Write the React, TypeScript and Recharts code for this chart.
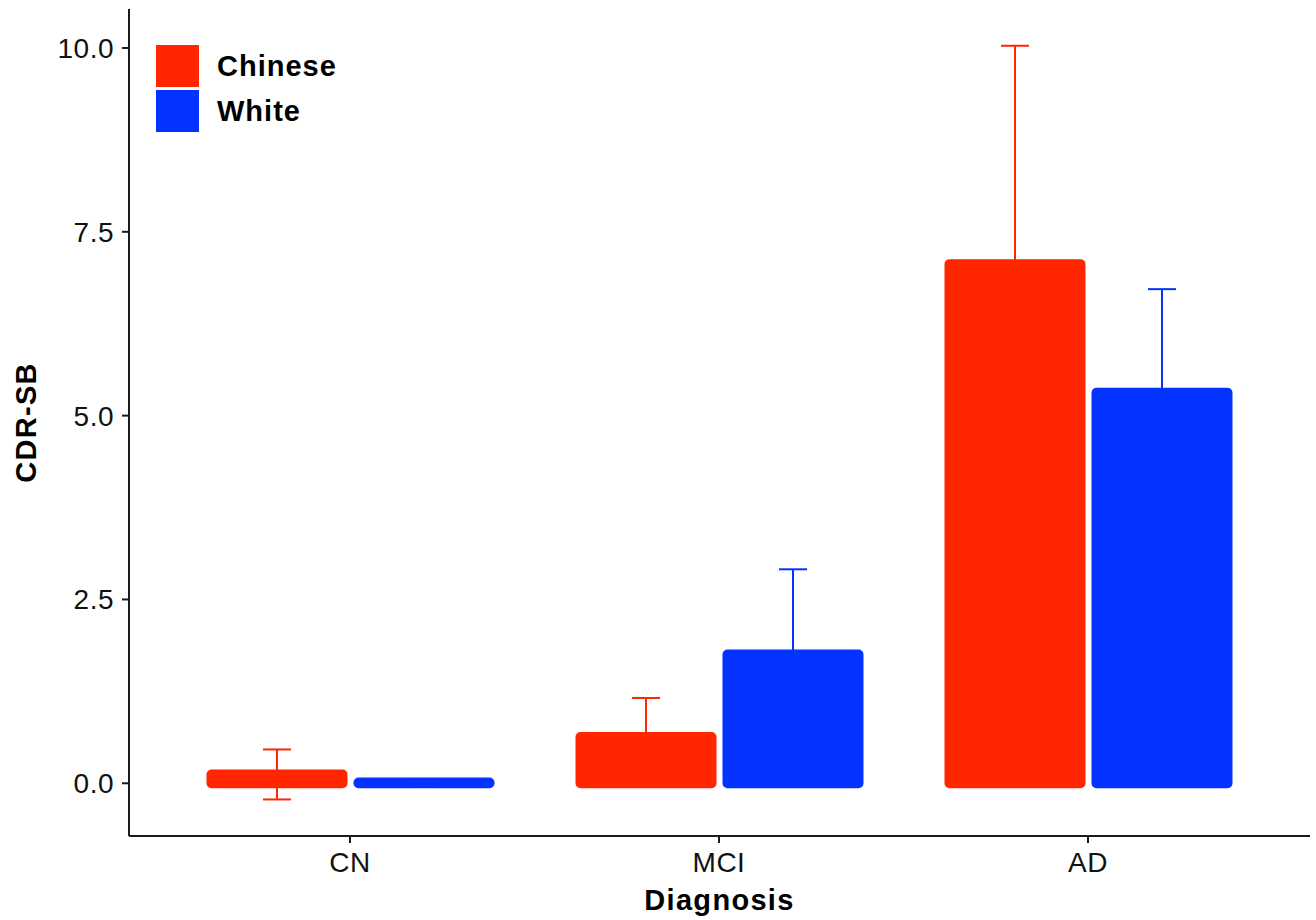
import React from "react";
import { BarChart, Bar, XAxis, YAxis, ErrorBar } from "recharts";

const diagnoses = ["CN", "MCI", "AD"];
const chineseMean = [0.12, 0.63, 7.06];
const chineseErr = [0.34, 0.53, 2.97];
const whiteMean = [0.01, 1.75, 5.31];
const whiteErr = [0.04, 1.16, 1.41];
const yTicks = [0, 2.5, 5, 7.5, 10];

const seriesNames = ["Chinese", "White"];
const RED = "#FF2600";
const BLUE = "#0433FF";
const FONT = "'Liberation Sans', Arial, sans-serif";
const INK = "#1a1a1a";

const data = diagnoses.map((d, i) => ({
  diagnosis: d,
  chinese: chineseMean[i],
  chineseErr: chineseErr[i],
  white: whiteMean[i],
  whiteErr: whiteErr[i],
}));

// ggplot-ish bar: outline in the fill colour with round joins
const OutlinedBar = (props: any) => {
  const { x, y, width, height, fill } = props;
  const top = height < 0 ? y + height : y;
  return (
    <rect
      x={x}
      y={top}
      width={width}
      height={Math.abs(height)}
      fill={fill}
      stroke={fill}
      strokeWidth={10}
      strokeLinejoin="round"
    />
  );
};

const YTitle = (props: any) => {
  const vb = props.viewBox || { x: 0, y: 9, width: 129, height: 827 };
  const cx = vb.x + 26;
  const cy = vb.y + vb.height / 2;
  return (
    <text
      x={cx}
      y={cy}
      transform={`rotate(-90, ${cx}, ${cy})`}
      textAnchor="middle"
      dominantBaseline="central"
      fontFamily={FONT}
      fontWeight="bold"
      fontSize={29}
      letterSpacing={1.3}
      fill="#000"
    >
      CDR-SB
    </text>
  );
};

const XTitle = (props: any) => {
  const vb = props.viewBox || { x: 129, y: 836, width: 1181, height: 84 };
  return (
    <text
      x={vb.x + vb.width / 2}
      y={vb.y + 74}
      textAnchor="middle"
      fontFamily={FONT}
      fontWeight="bold"
      fontSize={29}
      letterSpacing={1.3}
      fill="#000"
    >
      Diagnosis
    </text>
  );
};

const tickStyle = { fill: "#111", fontSize: 28, fontFamily: FONT, letterSpacing: 0.5 };

export default function App() {
  const colors = [RED, BLUE];
  return (
    <div style={{ position: "absolute", left: 0, top: 0, width: 1316, height: 920, background: "#fff" }}>
      <BarChart
        width={1316}
        height={920}
        data={data}
        margin={{ top: 9, right: 6, left: 0, bottom: 0 }}
        barSize={131}
        barGap={16}
      >
        <XAxis
          dataKey="diagnosis"
          height={84}
          padding={{ left: 36.5, right: 37.5 }}
          axisLine={{ stroke: INK, strokeWidth: 2 }}
          tickLine={{ stroke: INK, strokeWidth: 2 }}
          tickSize={7}
          tickMargin={9}
          tick={tickStyle}
          label={<XTitle />}
        />
        <YAxis
          type="number"
          domain={[-0.717, 10.53]}
          allowDataOverflow
          ticks={yTicks}
          tickFormatter={(v: number) => v.toFixed(1)}
          width={129}
          axisLine={{ stroke: INK, strokeWidth: 2 }}
          tickLine={{ stroke: INK, strokeWidth: 2 }}
          tickSize={7}
          tickMargin={8}
          tick={tickStyle}
          label={<YTitle />}
        />
        <Bar dataKey="chinese" name="Chinese" fill={RED} shape={OutlinedBar} isAnimationActive={false}>
          <ErrorBar dataKey="chineseErr" width={14} stroke={RED} strokeWidth={2} isAnimationActive={false} />
        </Bar>
        <Bar dataKey="white" name="White" fill={BLUE} shape={OutlinedBar} isAnimationActive={false}>
          <ErrorBar dataKey="whiteErr" width={14} stroke={BLUE} strokeWidth={2} isAnimationActive={false} />
        </Bar>
      </BarChart>
      <div style={{ position: "absolute", left: 156, top: 45, fontFamily: FONT }}>
        {seriesNames.map((name, i) => (
          <div key={name} style={{ display: "flex", alignItems: "center", height: 42, marginBottom: 3 }}>
            <div style={{ width: 43, height: 42, background: colors[i] }} />
            <span
              style={{
                marginLeft: 18,
                fontSize: 29,
                fontWeight: "bold",
                letterSpacing: 1,
                color: "#000",
              }}
            >
              {name}
            </span>
          </div>
        ))}
      </div>
    </div>
  );
}
